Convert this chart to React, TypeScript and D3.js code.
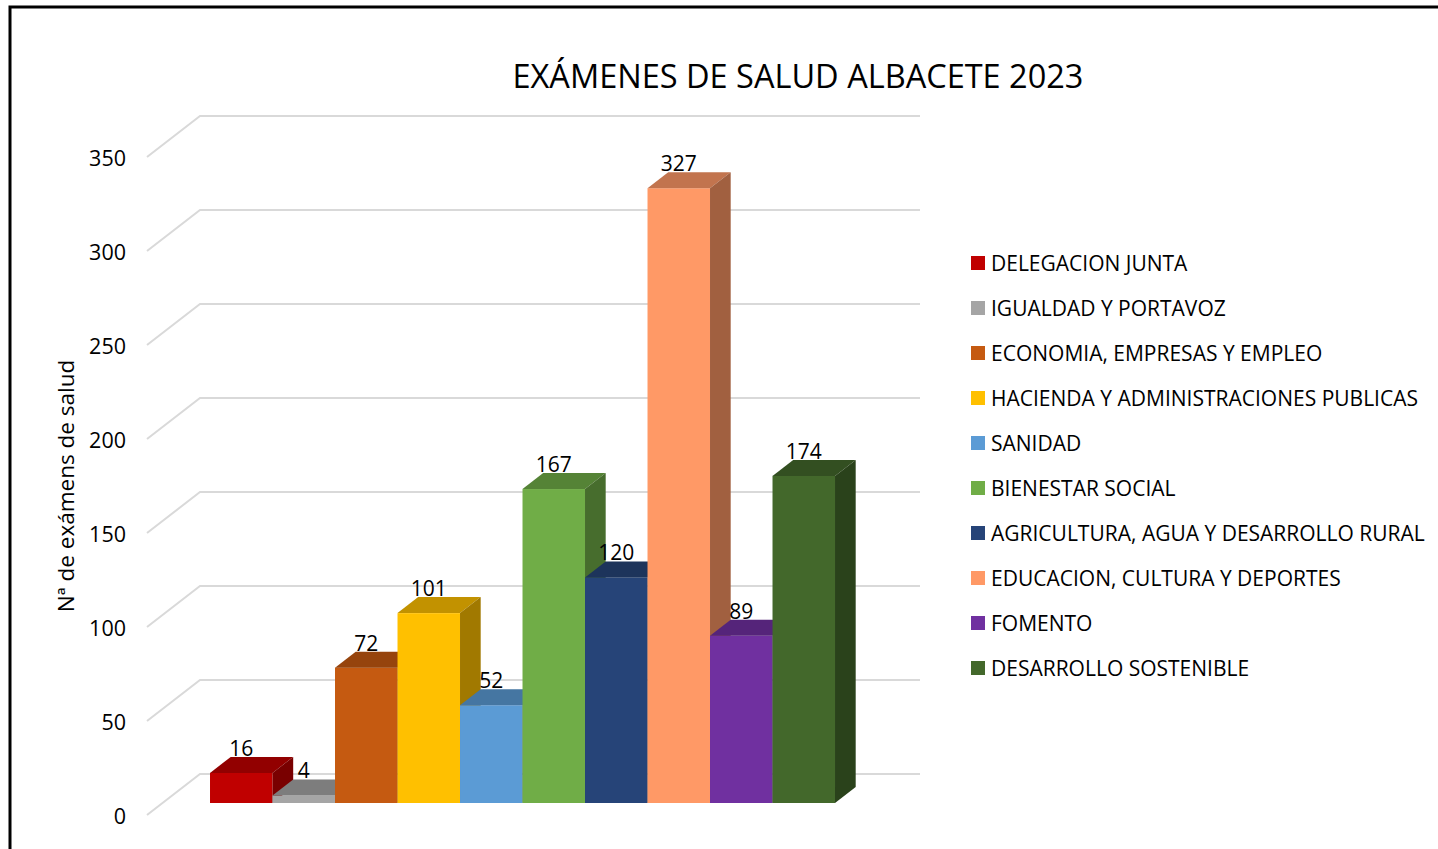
import React from "react";
import * as d3 from "d3";

// chart data
const series = [
  "DELEGACION JUNTA",
  "IGUALDAD Y PORTAVOZ",
  "ECONOMIA, EMPRESAS Y EMPLEO",
  "HACIENDA Y ADMINISTRACIONES PUBLICAS",
  "SANIDAD",
  "BIENESTAR SOCIAL",
  "AGRICULTURA, AGUA Y DESARROLLO RURAL",
  "EDUCACION, CULTURA Y DEPORTES",
  "FOMENTO",
  "DESARROLLO SOSTENIBLE",
];
const values = [16, 4, 72, 101, 52, 167, 120, 327, 89, 174];
const colors = [
  "#C00000",
  "#A5A5A5",
  "#C55A11",
  "#FFC000",
  "#5B9BD5",
  "#70AD47",
  "#264478",
  "#FF9966",
  "#7030A0",
  "#43682B",
];
const yTicks = [0, 50, 100, 150, 200, 250, 300, 350];

const W = 1438;
const H = 849;
const FONT = "'Open Sans', 'Liberation Sans', sans-serif";

// depth vector of the 3d box (front floor -> back wall)
const depthX = 53;
const depthY = -41;
const barFront = 12 / 41;
const barBack = 28 / 41;

const shade = (c: string, k: number) => {
  const r = d3.rgb(c);
  return d3.rgb(r.r * k, r.g * k, r.b * k).formatHex();
};

const App = () => {
  const y = d3.scaleLinear().domain([0, 350]).range([815, 157]);
  const floorLeft = 147;
  const floorRight = 867;
  const x = d3
    .scaleBand()
    .domain(series)
    .range([floorLeft + 47.5, floorRight - 47.5])
    .padding(0);

  const fx = depthX * barFront;
  const fy = depthY * barFront;
  const dx = depthX * (barBack - barFront);
  const dy = depthY * (barBack - barFront);
  const y0 = y(0) + fy;

  return (
    <svg
      width={W}
      height={H}
      style={{position: "absolute", left: 0, top: 0, background: "#fff"}}
      fontFamily={FONT}
    >
      <rect x={10} y={7} width={W + 20} height={H + 20} fill="#fff" stroke="#000" strokeWidth={3} />

      {/* title */}
      <text x={798} y={88} textAnchor="middle" fontSize={32.5} fill="#000">
        EXÁMENES DE SALUD ALBACETE 2023
      </text>

      {/* gridlines: side wall + back wall */}
      <g stroke="#D9D9D9" strokeWidth={2} fill="none">
        {yTicks.map((t) => (
          <polyline
            key={t}
            points={`${floorLeft},${y(t)} ${floorLeft + depthX},${y(t) + depthY} ${floorRight + depthX},${y(t) + depthY}`}
          />
        ))}
      </g>

      {/* y tick labels */}
      <g fontSize={21.5} fill="#000" textAnchor="end">
        {yTicks.map((t) => (
          <text key={t} x={126} y={y(t)} dy="0.42em">
            {t}
          </text>
        ))}
      </g>
      <text
        transform={`translate(74,486) rotate(-90)`}
        textAnchor="middle"
        fontSize={22.5}
        fill="#000"
      >
        Nª de exámens de salud
      </text>

      {/* bars */}
      {series.map((s, i) => {
        const x0 = (x(s) as number) + fx;
        const x1 = x0 + x.bandwidth();
        const yt = y(values[i]) + fy;
        const c = colors[i];
        return (
          <g key={s}>
            <rect x={x0} y={yt} width={x1 - x0} height={y0 - yt} fill={c} />
            <polygon
              points={`${x0},${yt} ${x1},${yt} ${x1 + dx},${yt + dy} ${x0 + dx},${yt + dy}`}
              fill={shade(c, 0.76)}
            />
            <polygon
              points={`${x1},${yt} ${x1 + dx},${yt + dy} ${x1 + dx},${y0 + dy} ${x1},${y0}`}
              fill={shade(c, 0.63)}
            />
          </g>
        );
      })}

      {/* data labels */}
      <g fontSize={21} fill="#000" textAnchor="middle">
        {series.map((s, i) => (
          <text
            key={s}
            x={(x(s) as number) + fx + x.bandwidth() / 2}
            y={y(values[i]) + fy + dy - 1}
          >
            {values[i]}
          </text>
        ))}
      </g>

      {/* legend */}
      <g fontSize={21} fill="#000">
        {series.map((s, i) => (
          <g key={s} transform={`translate(971,${263 + i * 45})`}>
            <rect x={0} y={-7} width={14} height={14} fill={colors[i]} />
            <text x={20} y={0} dy="0.38em">
              {s}
            </text>
          </g>
        ))}
      </g>
    </svg>
  );
};

export default App;
